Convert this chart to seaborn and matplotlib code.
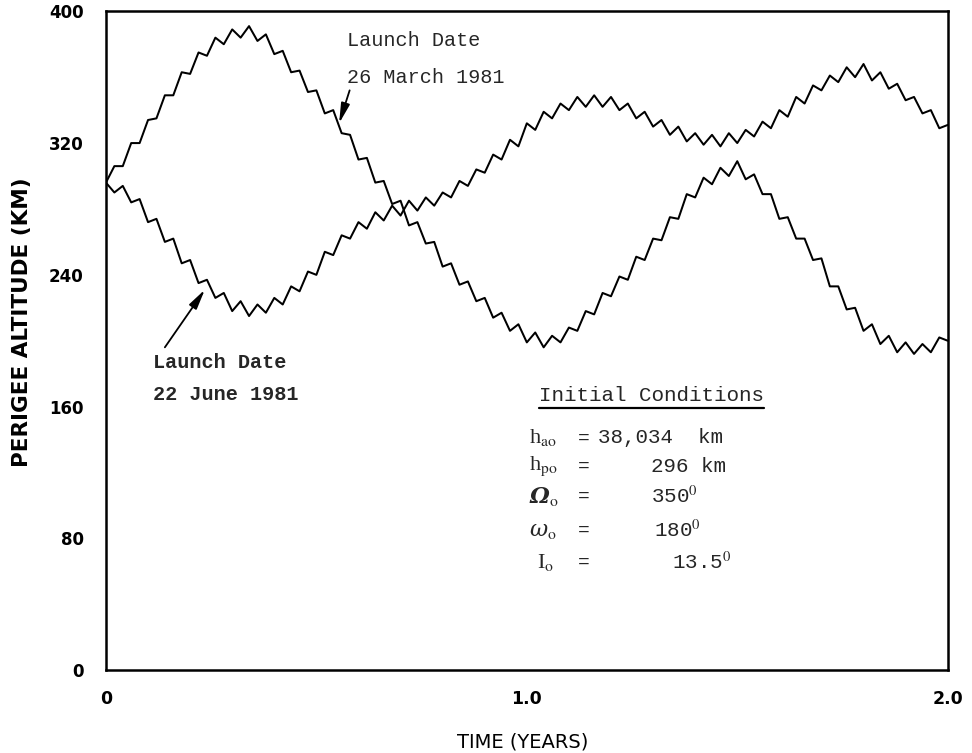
import matplotlib
matplotlib.use("Agg")
import matplotlib.pyplot as plt
from matplotlib.lines import Line2D
import pandas as pd
import seaborn as sns

# Elapsed time since launch (years), one entry per turning point of the ripple
time_years = [
    0.00, 0.02, 0.04, 0.06, 0.08, 0.10, 0.12, 0.14, 0.16, 0.18,
    0.20, 0.22, 0.24, 0.26, 0.28, 0.30, 0.32, 0.34, 0.36, 0.38,
    0.40, 0.42, 0.44, 0.46, 0.48, 0.50, 0.52, 0.54, 0.56, 0.58,
    0.60, 0.62, 0.64, 0.66, 0.68, 0.70, 0.72, 0.74, 0.76, 0.78,
    0.80, 0.82, 0.84, 0.86, 0.88, 0.90, 0.92, 0.94, 0.96, 0.98,
    1.00, 1.02, 1.04, 1.06, 1.08, 1.10, 1.12, 1.14, 1.16, 1.18,
    1.20, 1.22, 1.24, 1.26, 1.28, 1.30, 1.32, 1.34, 1.36, 1.38,
    1.40, 1.42, 1.44, 1.46, 1.48, 1.50, 1.52, 1.54, 1.56, 1.58,
    1.60, 1.62, 1.64, 1.66, 1.68, 1.70, 1.72, 1.74, 1.76, 1.78,
    1.80, 1.82, 1.84, 1.86, 1.88, 1.90, 1.92, 1.94, 1.96, 1.98,
    2.00,
]

# Perigee altitude (km), launch on 26 March 1981
perigee_march = [
    296, 306, 306, 320, 320, 334, 335, 349, 349, 363,
    362, 375, 373, 384, 380, 389, 384, 391, 382, 386,
    374, 376, 363, 364, 351, 352, 338, 340, 326, 325,
    310, 311, 296, 297, 283, 285, 270, 272, 259, 260,
    245, 247, 234, 236, 224, 226, 214, 217, 206, 210,
    199, 205, 196, 203, 199, 208, 206, 218, 216, 229,
    227, 239, 237, 251, 249, 262, 261, 275, 274, 289,
    287, 299, 295, 305, 300, 309, 298, 301, 289, 289,
    274, 275, 262, 262, 249, 250, 233, 233, 219, 220,
    206, 210, 198, 203, 193, 199, 192, 198, 193, 202,
    200,
]

# Perigee altitude (km), launch on 22 June 1981
perigee_june = [
    296, 290, 294, 284, 286, 272, 274, 260, 262, 247,
    249, 235, 237, 226, 229, 218, 224, 215, 222, 217,
    226, 222, 233, 230, 242, 240, 254, 252, 264, 262,
    272, 268, 278, 273, 282, 276, 285, 279, 287, 282,
    290, 287, 297, 294, 304, 302, 313, 310, 322, 318,
    332, 328, 339, 335, 344, 340, 348, 342, 349, 342,
    348, 340, 344, 335, 339, 330, 334, 325, 330, 321,
    326, 319, 325, 318, 326, 320, 328, 324, 333, 329,
    340, 336, 348, 344, 355, 352, 361, 357, 366, 360,
    368, 358, 363, 353, 356, 346, 348, 338, 340, 329,
    331,
]

launch_march = "26 March 1981"
launch_june = "22 June 1981"

y_ticks = [0, 40, 80, 120, 160, 200, 240, 280, 320, 360, 400]
y_tick_labels = ["0", "", "80", "", "160", "", "240", "", "320", "", "400"]
x_ticks = [0.0, 0.2, 0.4, 0.6, 0.8, 1.0, 1.2, 1.4, 1.6, 1.8, 2.0]
x_tick_labels = ["0", "", "", "", "", "1.0", "", "", "", "", "2.0"]

cond_symbols = ["h$_{\\rm ao}$", "h$_{\\rm po}$", "\u03a9$_{\\rm o}$",
                "\u03c9$_{\\rm o}$", "I$_{\\rm o}$"]
cond_values = ["38,034  km", "296 km", "350$^{0}$", "180$^{0}$",
               "13.5$^{0}$"]

# ---------------------------------------------------------------------------
sns.set_theme(style="white")
plt.rcParams["font.family"] = ["DejaVu Sans"]
plt.rcParams["mathtext.fontset"] = "stix"

df = pd.DataFrame({
    "time": time_years + time_years,
    "perigee": perigee_march + perigee_june,
    "launch": [launch_march] * len(time_years) + [launch_june] * len(time_years),
})

fig = plt.figure(figsize=(9.72, 7.53), dpi=100)
ax = fig.add_axes([0.109, 0.110, 0.866, 0.875])

sns.lineplot(data=df, x="time", y="perigee", hue="launch",
             palette={launch_march: "black", launch_june: "black"},
             estimator=None, sort=False, legend=False, linewidth=1.45, ax=ax)

ax.set_xlim(0, 2.0)
ax.set_ylim(0, 400)
ax.set_xticks(x_ticks)
ax.set_xticklabels(x_tick_labels)
ax.set_yticks(y_ticks)
ax.set_yticklabels(y_tick_labels)
ax.tick_params(axis="both", direction="in", length=9, width=1.3,
               colors="black", labelsize=12)
ax.tick_params(axis="y", pad=16)
ax.tick_params(axis="x", pad=14, labelsize=12.5)
for lbl in ax.get_xticklabels() + ax.get_yticklabels():
    lbl.set_fontweight("bold")

for side in ["left", "right", "top", "bottom"]:
    ax.spines[side].set_visible(True)
    ax.spines[side].set_color("black")
    ax.spines[side].set_linewidth(1.8)

ax.set_ylabel("PERIGEE ALTITUDE (KM)", fontsize=15.5, fontweight="bold",
              color="black")
ax.yaxis.set_label_coords(-0.088, 0.528)
ax.set_xlabel("TIME (YEARS)", fontsize=14, color="black")
ax.xaxis.set_label_coords(0.495, -0.094)

serif = ["Liberation Serif", "DejaVu Serif"]
mono = ["Liberation Mono", "DejaVu Sans Mono"]
arrow_style = dict(arrowstyle="-|>,head_length=1.0,head_width=0.22",
                   color="black", lw=1.3, shrinkA=0, shrinkB=0)

# Launch-date callouts
ax.text(0.573, 382, "Launch Date", family=mono, fontsize=14.5,
        va="center", ha="left")
ax.text(0.573, 360, launch_march, family=mono, fontsize=14.5,
        va="center", ha="left")
ax.annotate("", xy=(0.554, 332), xytext=(0.579, 352), arrowprops=arrow_style)

ax.text(0.111, 187, "Launch Date", family=mono, fontweight="bold",
        fontsize=14.5, va="center", ha="left")
ax.text(0.111, 167.5, launch_june, family=mono, fontweight="bold",
        fontsize=14.5, va="center", ha="left")
ax.annotate("", xy=(0.235, 231), xytext=(0.14, 196), arrowprops=arrow_style)

# Initial conditions block
title = ax.text(1.028, 167, "Initial Conditions", family=mono, fontsize=15,
                va="center", ha="left")
row_y = [141, 123.5, 105.5, 85, 65.5]
sym_x = [1.005, 1.005, 1.005, 1.005, 1.025]
val_x = [1.170, 1.294, 1.296, 1.301, 1.344]
for i, (sym, val, yy, sx, vx) in enumerate(
        zip(cond_symbols, cond_values, row_y, sym_x, val_x)):
    if i == 2:
        ax.text(sx, yy, sym, family=["DejaVu Serif"], fontsize=16,
                fontweight="bold", fontstyle="italic", va="center", ha="left")
    elif i == 3:
        ax.text(sx, yy, sym, family=["DejaVu Serif"], fontsize=16,
                fontstyle="italic", va="center", ha="left")
    else:
        ax.text(sx, yy, sym, family=serif, fontsize=16, va="center", ha="left")
    ax.text(1.122, yy, "=", family=mono, fontsize=14, va="center", ha="left")
    ax.text(vx, yy, val, family=mono, fontsize=15, va="center", ha="left")

# underline the block title from its rendered extent
fig.canvas.draw()
bb = title.get_window_extent(renderer=fig.canvas.get_renderer())
fh = fig.bbox.height
fw = fig.bbox.width
fig.add_artist(Line2D([bb.x0 / fw, bb.x1 / fw], [(bb.y0 - 3) / fh] * 2,
                      transform=fig.transFigure, color="black", lw=1.6))

fig.savefig("out.png", dpi=100, facecolor="white")
